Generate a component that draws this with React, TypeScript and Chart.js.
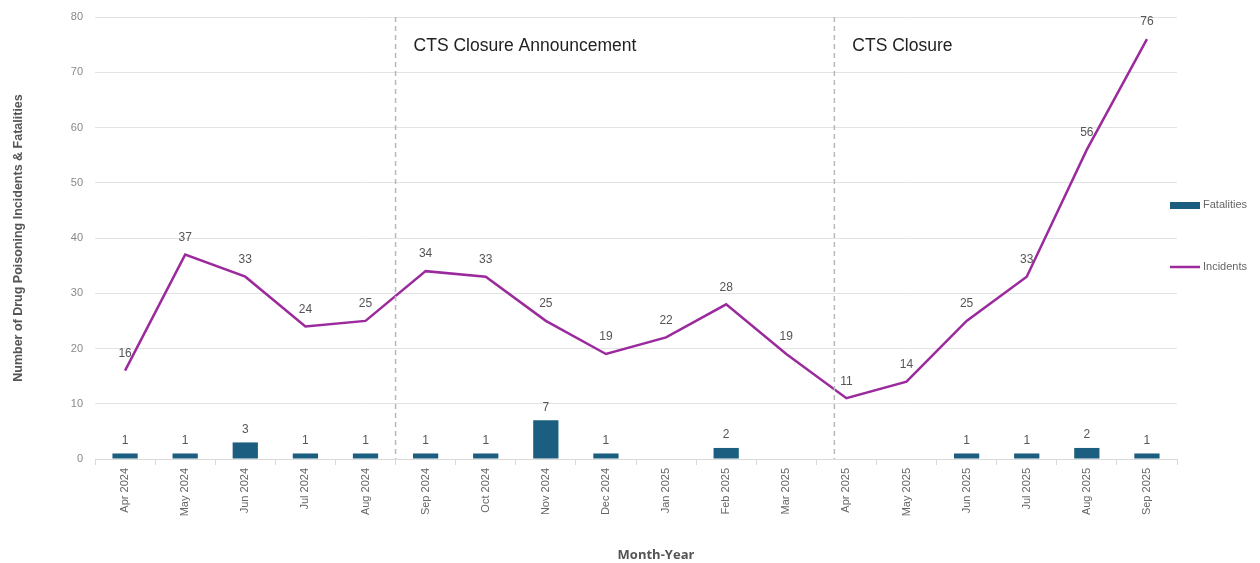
import React, { useEffect, useRef } from "react";
import { Chart, registerables } from "chart.js";

Chart.register(...registerables);

const months = [
  "Apr 2024", "May 2024", "Jun 2024", "Jul 2024", "Aug 2024", "Sep 2024",
  "Oct 2024", "Nov 2024", "Dec 2024", "Jan 2025", "Feb 2025", "Mar 2025",
  "Apr 2025", "May 2025", "Jun 2025", "Jul 2025", "Aug 2025", "Sep 2025",
];
const incidents = [16, 37, 33, 24, 25, 34, 33, 25, 19, 22, 28, 19, 11, 14, 25, 33, 56, 76];
const fatalities: (number | null)[] = [1, 1, 3, 1, 1, 1, 1, 7, 1, null, 2, null, null, null, 1, 1, 2, 1];
const yTicks = [0, 10, 20, 30, 40, 50, 60, 70, 80];
const markerLabels = ["CTS Closure Announcement", "CTS Closure"];
const markerPositions = [4.5, 11.8];
const xTitle = "Month-Year";

const BAR_COLOR = "#1b5e80";
const LINE_COLOR = "#9b2a9d";
const FONT = "'Liberation Sans', Arial, sans-serif";

export default function App() {
  const ref = useRef<HTMLCanvasElement | null>(null);

  useEffect(() => {
    if (!ref.current) return;

    const overlay = {
      id: "overlay",
      afterDatasetsDraw(chart: any) {
        const { ctx, chartArea, scales } = chart;
        const x = scales.x;
        const y = scales.y;
        ctx.save();
        // markers
        markerPositions.forEach((pos, i) => {
          const lo = Math.floor(pos);
          const f = pos - lo;
          const px = x.getPixelForValue(lo) + f * (x.getPixelForValue(lo + 1) - x.getPixelForValue(lo));
          ctx.strokeStyle = "#b8b8b8";
          ctx.lineWidth = 1.5;
          ctx.setLineDash([5, 4]);
          ctx.beginPath();
          ctx.moveTo(px, chartArea.top);
          ctx.lineTo(px, chartArea.bottom);
          ctx.stroke();
          ctx.setLineDash([]);
          ctx.fillStyle = "#222";
          ctx.font = `17.5px ${FONT}`;
          ctx.textAlign = "left";
          ctx.textBaseline = "middle";
          ctx.fillText(markerLabels[i], px + 18, chartArea.top + 29);
        });
        // labels
        ctx.fillStyle = "#555";
        ctx.font = `12px ${FONT}`;
        ctx.textAlign = "center";
        ctx.textBaseline = "middle";
        const barMeta = chart.getDatasetMeta(0);
        barMeta.data.forEach((el: any, i: number) => {
          const v = fatalities[i];
          if (v == null) return;
          ctx.fillText(String(v), el.x, el.y - 13);
        });
        const lineMeta = chart.getDatasetMeta(1);
        lineMeta.data.forEach((el: any, i: number) => {
          ctx.fillText(String(incidents[i]), el.x, el.y - 17);
        });
        // legend
        const lx = chartArea.right - 7;
        const ly1 = y.getPixelForValue(0) - 254;
        ctx.fillStyle = BAR_COLOR;
        ctx.fillRect(lx, ly1 - 3, 30, 7);
        ctx.fillStyle = "#666";
        ctx.font = `11px ${FONT}`;
        ctx.textAlign = "left";
        ctx.fillText("Fatalities", lx + 33, ly1);
        const ly2 = ly1 + 62;
        ctx.strokeStyle = LINE_COLOR;
        ctx.lineWidth = 2.5;
        ctx.beginPath();
        ctx.moveTo(lx, ly2);
        ctx.lineTo(lx + 30, ly2);
        ctx.stroke();
        ctx.fillText("Incidents", lx + 33, ly2);
        // x title
        ctx.fillStyle = "#555";
        ctx.font = `bold 13px 'Open Sans', ${FONT}`;
        ctx.textAlign = "center";
        ctx.fillText(xTitle, (chartArea.left + chartArea.right) / 2 + 20, chart.height - 8);
        ctx.restore();
      },
    };

    const chart = new Chart(ref.current, {
      type: "bar",
      data: {
        labels: months,
        datasets: [
          {
            type: "bar",
            label: "Fatalities",
            data: fatalities,
            backgroundColor: BAR_COLOR,
            categoryPercentage: 0.42,
            barPercentage: 1,
            order: 2,
          },
          {
            type: "line",
            label: "Incidents",
            data: incidents,
            borderColor: LINE_COLOR,
            backgroundColor: LINE_COLOR,
            borderWidth: 2.5,
            pointRadius: 0,
            pointHoverRadius: 0,
            tension: 0,
            order: 1,
          } as any,
        ],
      },
      options: {
        responsive: false,
        animation: false,
        layout: { autoPadding: false, padding: { top: 9, right: 75, left: 0, bottom: 0 } },
        plugins: {
          legend: { display: false },
          tooltip: { enabled: false },
        },
        scales: {
          x: {
            offset: true,
            grid: {
              display: true,
              offset: true,
              drawOnChartArea: false,
              color: "#d9d9d9",
              tickLength: 6,
            },
            border: { color: "#d9d9d9" },
            ticks: {
              minRotation: 90,
              maxRotation: 90,
              padding: 3,
              color: "#666",
              font: { family: FONT, size: 11 },
              autoSkip: false,
            },
            afterFit: (s: any) => {
              s.height = 104;
            },
          },
          y: {
            min: 0,
            max: 80,
            afterBuildTicks: (s: any) => {
              s.ticks = yTicks.map((v) => ({ value: v }));
            },
            grid: { color: "#e3e3e3", drawTicks: false },
            border: { display: false },
            ticks: {
              padding: 12,
              color: "#888",
              font: { family: FONT, size: 11 },
            },
            title: {
              display: true,
              text: "Number of Drug Poisoning Incidents & Fatalities",
              color: "#555",
              font: { family: FONT, size: 12.5, weight: "bold" },
              padding: { top: 3, bottom: 0 },
            },
            afterFit: (s: any) => {
              s.width = 87;
              s.paddingTop = 0;
              s.paddingBottom = 0;
            },
          },
        },
      },
      plugins: [overlay],
    });
    return () => chart.destroy();
  }, []);

  return (
    <div style={{ width: 1244, height: 555 }}>
      <canvas ref={ref} width={1244} height={555} style={{ display: "block" }} />
    </div>
  );
}
